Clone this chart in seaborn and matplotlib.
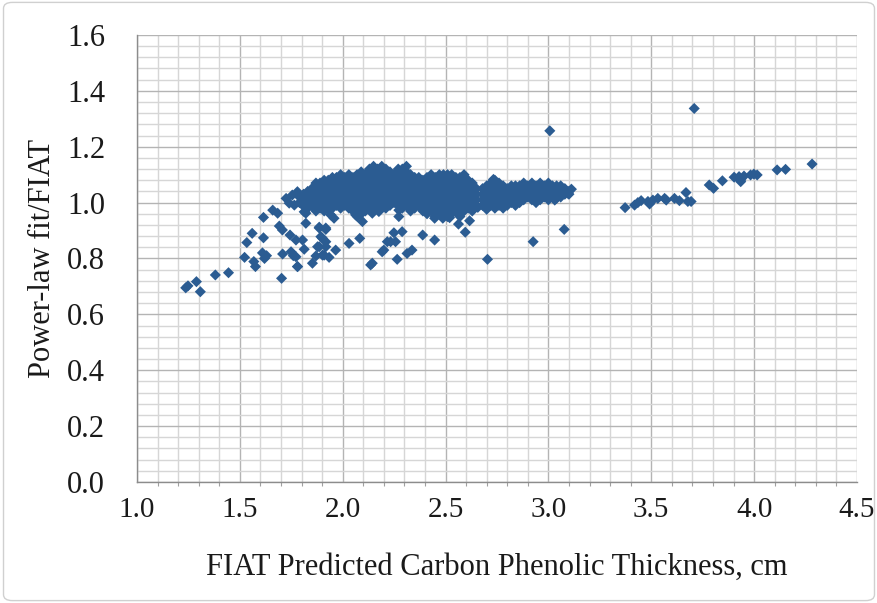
import matplotlib
matplotlib.use('Agg')
import matplotlib.pyplot as plt
import seaborn as sns
import pandas as pd
from matplotlib.ticker import MultipleLocator
from matplotlib.patches import FancyBboxPatch

# scattered points (outside the dense band)
scatter_x = [1.237, 1.248, 1.289, 1.308, 1.381, 1.445, 1.523, 1.534, 1.560, 1.576,
             1.568, 1.615, 1.615, 1.610, 1.630, 1.620, 1.660, 1.684, 1.692, 1.707,
             1.703, 1.708, 1.744, 1.749, 1.760, 1.725, 1.740, 1.755, 1.780, 1.780,
             1.765, 1.805, 1.813, 1.821, 1.773, 1.805, 1.773, 1.813, 1.781, 1.853,
             1.886, 1.918, 1.902, 1.918, 1.878, 1.870, 1.902, 1.934, 1.966, 1.942,
             1.958, 2.031, 2.055, 2.071, 2.096, 2.083, 2.136, 2.144, 2.176, 2.200,
             2.192, 2.233, 2.257, 2.249, 2.289, 2.265, 2.313, 2.337, 2.273, 2.273,
             2.389, 2.447, 2.447, 2.487, 2.520, 2.563, 2.617, 2.596, 2.657, 2.700,
             2.704, 2.733, 2.926, 3.007, 3.077, 3.112, 3.096, 3.039, 3.031, 2.063,
             1.821, 1.886, 1.918, 1.886, 1.918, 2.144, 2.217, 1.894, 1.910]
scatter_y = [0.695, 0.702, 0.717, 0.681, 0.741, 0.749, 0.804, 0.857, 0.890, 0.771,
             0.789, 0.947, 0.874, 0.820, 0.810, 0.800, 0.973, 0.962, 0.916, 0.902,
             0.729, 0.816, 0.884, 0.824, 0.810, 1.015, 0.998, 1.027, 1.039, 0.771,
             0.991, 0.991, 0.967, 0.926, 0.866, 0.866, 0.806, 0.833, 0.771, 0.783,
             0.912, 0.904, 0.872, 0.860, 0.842, 0.809, 0.812, 0.804, 0.830, 0.956,
             0.944, 0.854, 0.980, 0.950, 0.932, 0.872, 0.777, 0.962, 0.968, 0.830,
             0.824, 0.860, 0.860, 0.892, 0.896, 0.797, 0.818, 0.830, 0.973, 0.950,
             0.884, 0.866, 0.944, 0.944, 0.946, 0.923, 0.935, 0.894, 0.983, 0.976,
             0.797, 1.083, 0.860, 1.257, 0.904, 1.048, 1.033, 1.015, 1.009, 0.956,
             0.962, 0.909, 0.909, 0.842, 0.842, 0.783, 0.860, 0.878, 0.812]

# thick tail beyond 3.3 cm
tail_x = [3.373, 3.419, 3.435, 3.451, 3.484, 3.492, 3.508, 3.532, 3.565, 3.573,
          3.613, 3.637, 3.669, 3.678, 3.694, 3.709, 3.782, 3.803, 3.846, 3.903,
          3.927, 3.935, 3.951, 3.935, 3.983, 3.999, 4.015, 4.112, 4.153, 4.282]
tail_y = [0.982, 0.991, 1.000, 1.007, 1.004, 0.995, 1.009, 1.015, 1.015, 1.009,
          1.015, 1.007, 1.036, 1.004, 1.004, 1.337, 1.063, 1.051, 1.078, 1.091,
          1.093, 1.081, 1.095, 1.075, 1.099, 1.102, 1.099, 1.117, 1.119, 1.138]

# dense band: one x column with the y values read in that column
band_x = [1.79, 1.81, 1.83, 1.85, 1.87, 1.89, 1.91, 1.93, 1.95, 1.97,
          1.99, 2.01, 2.03, 2.05, 2.07, 2.09, 2.11, 2.13, 2.15, 2.17,
          2.19, 2.21, 2.23, 2.25, 2.27, 2.29, 2.31, 2.33, 2.35, 2.37,
          2.39, 2.41, 2.43, 2.45, 2.47, 2.49, 2.51, 2.53, 2.55, 2.57,
          2.59, 2.61, 2.63, 2.65, 2.68, 2.70, 2.72, 2.74, 2.76, 2.78,
          2.80, 2.82, 2.84, 2.86, 2.88, 2.90, 2.92, 2.94, 2.96, 2.98,
          3.00, 3.02, 3.04, 3.06, 3.08, 3.10]
band_y = [
    [1.00, 1.02],
    [0.99, 1.01, 1.03],
    [0.98, 1.00, 1.02, 1.04],
    [0.99, 1.01, 1.03, 1.05],
    [0.97, 0.99, 1.01, 1.03, 1.05, 1.07],
    [0.98, 1.00, 1.02, 1.04, 1.06, 1.07],
    [0.97, 0.99, 1.01, 1.03, 1.05, 1.07, 1.08],
    [0.98, 1.00, 1.02, 1.04, 1.06, 1.08],
    [0.98, 1.00, 1.02, 1.04, 1.06, 1.08, 1.09],
    [0.99, 1.01, 1.03, 1.05, 1.07, 1.09],
    [0.98, 1.00, 1.02, 1.04, 1.06, 1.08, 1.10],
    [0.99, 1.01, 1.03, 1.05, 1.07, 1.09],
    [0.98, 1.00, 1.02, 1.04, 1.06, 1.08, 1.10],
    [0.97, 0.99, 1.01, 1.03, 1.05, 1.07, 1.09],
    [0.98, 1.00, 1.02, 1.04, 1.06, 1.08, 1.10],
    [0.96, 0.99, 1.01, 1.03, 1.05, 1.07, 1.09, 1.11],
    [0.97, 1.00, 1.02, 1.04, 1.06, 1.08, 1.10],
    [0.98, 1.00, 1.02, 1.04, 1.06, 1.08, 1.10, 1.12],
    [0.97, 0.99, 1.01, 1.03, 1.05, 1.07, 1.09, 1.11, 1.13],
    [0.98, 1.00, 1.02, 1.04, 1.06, 1.08, 1.10, 1.12],
    [0.99, 1.01, 1.03, 1.05, 1.07, 1.09, 1.11, 1.13],
    [0.98, 1.00, 1.02, 1.04, 1.06, 1.08, 1.10, 1.12],
    [0.99, 1.01, 1.03, 1.05, 1.07, 1.09, 1.11],
    [1.00, 1.02, 1.04, 1.06, 1.08, 1.10],
    [0.99, 1.01, 1.03, 1.05, 1.07, 1.09, 1.11, 1.12],
    [0.98, 1.00, 1.02, 1.04, 1.06, 1.08, 1.10, 1.12],
    [0.99, 1.01, 1.03, 1.05, 1.07, 1.09, 1.11, 1.13],
    [0.97, 1.00, 1.02, 1.04, 1.06, 1.08, 1.10],
    [0.98, 1.00, 1.02, 1.04, 1.06, 1.08, 1.09],
    [0.99, 1.01, 1.03, 1.05, 1.07, 1.09],
    [0.97, 1.00, 1.02, 1.04, 1.06, 1.08],
    [0.96, 0.98, 1.01, 1.03, 1.05, 1.07, 1.09],
    [0.97, 1.00, 1.02, 1.04, 1.06, 1.08, 1.10],
    [0.95, 0.98, 1.01, 1.03, 1.05, 1.07, 1.09],
    [0.96, 0.99, 1.02, 1.04, 1.06, 1.08, 1.10],
    [0.97, 1.00, 1.02, 1.04, 1.06, 1.08, 1.10],
    [0.95, 0.98, 1.01, 1.03, 1.05, 1.07, 1.09, 1.10],
    [0.96, 0.99, 1.02, 1.04, 1.06, 1.08, 1.10],
    [0.97, 1.00, 1.02, 1.04, 1.06, 1.08, 1.09],
    [0.95, 0.98, 1.01, 1.03, 1.05, 1.07, 1.09],
    [0.97, 0.99, 1.02, 1.04, 1.06, 1.08, 1.10],
    [0.98, 1.00, 1.02, 1.04, 1.06, 1.08],
    [0.97, 0.99, 1.01, 1.03, 1.05, 1.07],
    [0.99, 1.01, 1.03, 1.05],
    [0.99, 1.01, 1.03, 1.05],
    [0.98, 1.00, 1.02, 1.04, 1.06],
    [0.99, 1.01, 1.03, 1.05, 1.07],
    [0.98, 1.00, 1.02, 1.04, 1.06, 1.08],
    [0.99, 1.01, 1.03, 1.05, 1.07],
    [0.98, 1.00, 1.02, 1.04, 1.06],
    [0.99, 1.01, 1.03, 1.05],
    [1.00, 1.02, 1.04, 1.06],
    [0.99, 1.01, 1.03, 1.05, 1.06],
    [1.00, 1.02, 1.04, 1.06],
    [1.01, 1.03, 1.05, 1.07],
    [1.02, 1.04, 1.06],
    [1.01, 1.03, 1.05, 1.07],
    [1.00, 1.02, 1.04, 1.06],
    [1.01, 1.03, 1.05, 1.07],
    [1.02, 1.04, 1.06],
    [1.01, 1.03, 1.05, 1.07],
    [1.02, 1.04, 1.06],
    [1.03, 1.05, 1.06],
    [1.02, 1.04, 1.06],
    [1.03, 1.05],
    [1.03, 1.04],
]

xs, ys = [], []
for bx, col in zip(band_x, band_y):
    for by in col:
        xs.append(bx)
        ys.append(by)
xs += scatter_x + tail_x
ys += scatter_y + tail_y
df = pd.DataFrame({'x': xs, 'y': ys})

sns.set_theme(style='white')
plt.rcParams['font.family'] = ['Liberation Serif', 'DejaVu Serif']

fig = plt.figure(figsize=(8.78, 6.03), dpi=100)
ax = fig.add_axes([0.156, 0.2007, 0.8200, 0.7413])

sns.scatterplot(data=df, x='x', y='y', marker='D', s=32, color='#2B5C92',
                edgecolor='none', linewidth=0, ax=ax, zorder=3, clip_on=False)

ax.set_xlim(1.0, 4.5)
ax.set_ylim(0.0, 1.6)
ax.xaxis.set_major_locator(MultipleLocator(0.5))
ax.xaxis.set_minor_locator(MultipleLocator(0.1))
ax.yaxis.set_major_locator(MultipleLocator(0.2))
ax.yaxis.set_minor_locator(MultipleLocator(0.04))
ax.xaxis.set_major_formatter(lambda v, p: f'{v:.1f}')
ax.yaxis.set_major_formatter(lambda v, p: f'{v:.1f}')

ax.grid(which='major', color='#B4B4B4', linewidth=1.0, zorder=0)
ax.grid(which='minor', color='#D6D6D6', linewidth=1.0, zorder=0)
ax.set_axisbelow(True)

for side in ['top', 'right']:
    ax.spines[side].set_visible(False)
for side in ['left', 'bottom']:
    ax.spines[side].set_color('#8C8C8C')
    ax.spines[side].set_linewidth(1.0)

ax.tick_params(axis='y', which='major', labelsize=22, colors='#8C8C8C',
               labelcolor='#1a1a1a', length=6, width=1.0, pad=17)
ax.tick_params(axis='x', which='major', labelsize=21, colors='#8C8C8C',
               labelcolor='#1a1a1a', length=5, width=1.0, pad=6)
ax.tick_params(axis='x', which='minor', bottom=True, length=3, width=0.8,
               colors='#A0A0A0')
ax.tick_params(axis='y', which='minor', left=False)

ax.set_xlabel('FIAT Predicted Carbon Phenolic Thickness, cm', fontsize=22,
              color='#1a1a1a', labelpad=21)
ax.set_ylabel('Power-law fit/FIAT', fontsize=22, color='#1a1a1a', labelpad=7)

border = FancyBboxPatch((0.004, 0.004), 0.992, 0.992, transform=fig.transFigure,
                        boxstyle='round,pad=0,rounding_size=0.01',
                        facecolor='none', edgecolor='#D0D0D0', linewidth=1.0)
fig.patches.append(border)

fig.savefig('out.png', dpi=100)
